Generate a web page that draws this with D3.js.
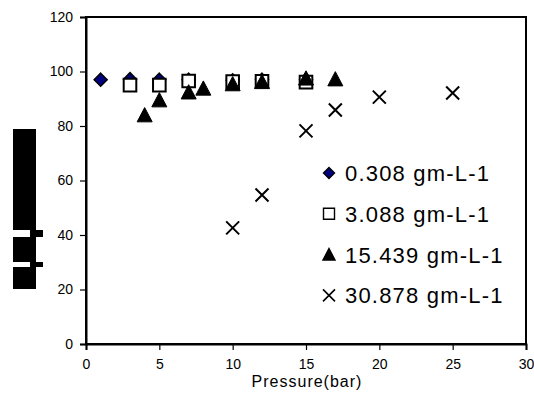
<!DOCTYPE html>
<html>
<head>
<meta charset="utf-8">
<script src="https://cdn.jsdelivr.net/npm/d3@7"></script>
<style>
  body { margin: 0; background: #fff; }
  text { font-family: Arial, "Liberation Sans", sans-serif; fill: #000; }
</style>
</head>
<body>
<div id="chart"></div>
<script>
// data
const xTicks = [0, 5, 10, 15, 20, 25, 30];
const yTicks = [0, 20, 40, 60, 80, 100, 120];

const s1x = [1, 3, 5, 7, 10, 12, 15];
const s1y = [97, 97.2, 97, 97, 96.8, 97, 97];
const s2x = [3, 5, 7, 10, 12, 15];
const s2y = [95, 95, 96.5, 96.3, 96.4, 96.1];
const s3x = [4, 5, 7, 8, 10, 12, 15, 17];
const s3y = [84, 89.5, 92.4, 93.8, 95.4, 96.2, 97.5, 97.2];
const s4x = [10, 12, 15, 17, 20, 25];
const s4y = [42.6, 54.7, 78.2, 85.9, 90.6, 92.1];
const seriesNames = ["0.308 gm-L-1", "3.088 gm-L-1", "15.439 gm-L-1", "30.878 gm-L-1"];
const xTitle = "Pressure(bar)";

const width = 534, height = 396;
const margin = { left: 86, right: 8, top: 17, bottom: 52 };

const svg = d3.select("#chart").append("svg").attr("width", width).attr("height", height);

const x = d3.scaleLinear().domain([0, 30]).range([margin.left, width - margin.right]);
const y = d3.scaleLinear().domain([0, 120]).range([height - margin.bottom, margin.top]);

// plot frame
svg.append("rect")
  .attr("x", x(0)).attr("y", y(120))
  .attr("width", x(30) - x(0)).attr("height", y(0) - y(120))
  .attr("fill", "none").attr("stroke", "#000").attr("stroke-width", 2);

const xAxis = svg.append("g")
  .attr("transform", `translate(0,${y(0)})`)
  .call(d3.axisBottom(x).tickValues(xTicks).tickSize(6).tickPadding(9));
const yAxis = svg.append("g")
  .attr("transform", `translate(${x(0)},0)`)
  .call(d3.axisLeft(y).tickValues(yTicks).tickSize(6).tickPadding(7));
[xAxis, yAxis].forEach(function (a) {
  a.select(".domain").attr("stroke-width", 2);
  a.selectAll(".tick line").attr("stroke-width", 1.2);
  a.selectAll(".tick text").style("font-size", "14px").style("font-family", "Arial, 'Liberation Sans', sans-serif");
});

svg.append("text")
  .attr("x", 307).attr("y", 387)
  .attr("text-anchor", "middle")
  .style("font-size", "16px")
  .style("letter-spacing", "1px")
  .text(xTitle);

// blacked-out y title as in the source
const blot = svg.append("g").attr("fill", "#000");
blot.append("rect").attr("x", 13).attr("y", 129).attr("width", 23).attr("height", 101);
blot.append("rect").attr("x", 13).attr("y", 237).attr("width", 23).attr("height", 25);
blot.append("rect").attr("x", 13).attr("y", 267).attr("width", 23).attr("height", 22);
blot.append("rect").attr("x", 30).attr("y", 230).attr("width", 13).attr("height", 7);
blot.append("rect").attr("x", 30).attr("y", 262).attr("width", 13).attr("height", 5);

// marker paths
function diamond(s) { return `M0,${-s}L${s},0L0,${s}L${-s},0Z`; }
function square(s) { return `M${-s},${-s}H${s}V${s}H${-s}Z`; }
function triangle(s) { return `M0,${-s}L${s},${s * 0.9}L${-s},${s * 0.9}Z`; }
function cross(s) { return `M${-s},${-s}L${s},${s}M${-s},${s}L${s},${-s}`; }

const styles = [
  { path: diamond, size: 6.5, fill: "#000080", stroke: "#000", sw: 1.5, ls: 5.5 },
  { path: square, size: 6.3, fill: "#fff", stroke: "#000", sw: 2, ls: 5.5 },
  { path: triangle, size: 7.5, fill: "#000", stroke: "#000", sw: 1, ls: 6 },
  { path: cross, size: 6.5, fill: "none", stroke: "#000", sw: 2, ls: 6 }
];
const series = [[s1x, s1y], [s2x, s2y], [s3x, s3y], [s4x, s4y]];

series.forEach(function (s, i) {
  const st = styles[i];
  const pts = s[0].map((v, j) => ({ x: v, y: s[1][j] }));
  svg.append("g").selectAll("path").data(pts).enter().append("path")
    .attr("transform", d => `translate(${x(d.x)},${y(d.y)})`)
    .attr("d", st.path(st.size))
    .attr("fill", st.fill).attr("stroke", st.stroke).attr("stroke-width", st.sw);
});

// legend
const legend = svg.append("g").attr("transform", "translate(329,173)");
seriesNames.forEach(function (name, i) {
  const st = styles[i];
  const g = legend.append("g").attr("transform", `translate(0,${i * 40.8})`);
  g.append("path").attr("d", st.path(st.ls))
    .attr("fill", st.fill).attr("stroke", st.stroke).attr("stroke-width", i == 3 ? 1.6 : 1.4);
  g.append("text").attr("x", 16).attr("y", 8)
    .style("font-size", "22px").style("letter-spacing", "1.2px")
    .text(name);
});
</script>
</body>
</html>
